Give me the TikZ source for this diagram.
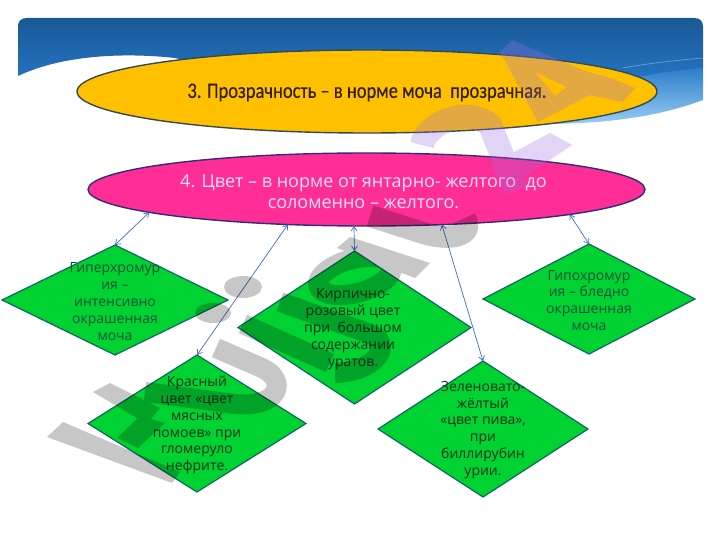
\documentclass[tikz,border=0pt]{standalone}
\usepackage{fontspec}
\setmainfont{Open Sans}
\newfontfamily\titlefont[FakeStretch=0.84,FakeBold=0.3]{Carlito}
\usetikzlibrary{shapes.geometric,arrows.meta}
\definecolor{ovalY}{RGB}{255,192,0}
\definecolor{ovalP}{RGB}{255,45,150}
\definecolor{dia}{RGB}{0,210,50}
\definecolor{diaedge}{RGB}{15,105,90}
\definecolor{conncol}{RGB}{62,112,190}
\definecolor{wmpurple}{RGB}{158,110,225}
\definecolor{tealtxt}{RGB}{6,80,60}
\definecolor{darktxt}{RGB}{4,50,28}
\tikzset{
  x=1pt,y=-1pt,
  oval/.style={ellipse,draw,line width=1.4pt,inner sep=0pt,outer sep=0pt},
  gem/.style={diamond,fill=dia,draw=diaedge,line width=1.2pt,inner sep=0pt,outer sep=0pt},
  gemtext/.style={align=center,font=\fontsize{14}{16.9}\selectfont,inner sep=0pt},
  conn/.style={draw=conncol,line width=0.7pt,{Straight Barb[length=4.5pt,width=6pt]}-{Straight Barb[length=4.5pt,width=6pt]}},
}
\begin{document}
\begin{tikzpicture}
\useasboundingbox (0,0) rectangle (720,540);
\fill[white] (0,0) rectangle (720,540);
% header band
\shade[top color={rgb,255:red,26;green,88;blue,150},bottom color={rgb,255:red,40;green,130;blue,215}]
  (18,27) .. controls (18,21) and (21,18) .. (27,18) -- (694,18) .. controls (700,18) and (703,21) .. (703,27)
  -- (703,68) .. controls (680,72) and (650,74) .. (600,90) -- (400,110) -- (175,58)
  .. controls (120,52) and (60,56) .. (18,76) -- cycle;
\shade[top color={rgb,255:red,45;green,125;blue,200},bottom color={rgb,255:red,150;green,205;blue,245}]
  (703,68) .. controls (680,70) and (650,73) .. (610,84) -- (500,110) -- (540,124)
  .. controls (610,124) and (660,116) .. (703,100) -- cycle;
\draw[white,opacity=.3,line width=.8pt] (623,68) .. controls (650,63) and (680,60) .. (703,58);
% ovals
\node[oval,fill=ovalY,draw={rgb,255:red,50;green,75;blue,85},minimum width=580pt,minimum height=83pt] (yellow) at (367,91.5) {};
\node[font=\titlefont\fontsize{22}{24}\selectfont,text={rgb,255:red,50;green,30;blue,0},inner sep=0pt] (yellowtext) at (367,92.5)
  {3. Прозрачность – в норме моча\ \ прозрачная.};
\node[oval,fill=ovalP,draw={rgb,255:red,50;green,45;blue,120},minimum width=557pt,minimum height=73pt] (pink) at (366.5,189.5) {};
\node[align=center,text={rgb,255:red,255;green,225;blue,240},font=\fontsize{18}{21}\selectfont,inner sep=0pt] (pinktext) at (363.5,192)
  {4. Цвет – в норме от янтарно- желтого\ \ до\\соломенно – желтого.};
% diamonds
\node[gem,minimum width=226pt,minimum height=110pt] (d1) at (115,300) {};
\node[gem,minimum width=218pt,minimum height=137pt] (d2) at (197,423.5) {};
\node[gem,minimum width=233pt,minimum height=153pt] (d3) at (354.5,327.5) {};
\node[gem,minimum width=210pt,minimum height=136pt] (d4) at (483,429) {};
\node[gem,minimum width=212pt,minimum height=110pt] (d5) at (589,299) {};
\node[gemtext,text=tealtxt] (t1) at (115,301.5) {Гиперхромур\\ия –\\интенсивно\\окрашенная\\моча};
\node[gemtext,text=darktxt] (t2) at (197,425) {Красный\\цвет «цвет\\мясных\\помоев» при\\гломеруло\\нефрите.};
\node[gemtext,text=darktxt] (t3) at (353,329) {Кирпично-\\розовый цвет\\при\ \ большом\\содержании\\уратов.};
\node[gemtext,text=darktxt] (t4) at (483,430) {Зеленовато-\\жёлтый\\«цвет пива»,\\при\\биллирубин\\урии.};
\node[gemtext,text=tealtxt] (t5) at (589,300.5) {Гипохромур\\ия – бледно\\окрашенная\\моча};
% connectors
\draw[conn] (pink.186.2) -- (d1.north);
\draw[conn] (pink.204.1) -- (d2.north);
\draw[conn] (pink.251.8) -- (d3.north);
\draw[conn] (pink.335.4) -- (d4.north);
\draw[conn] (pink.353.1) -- (d5.north);
% watermark, grey part
\begin{scope}[transparency group,opacity=.22]
  \fill (47,437) -- (63,422) -- (180,472) -- (172,483) -- cycle;
  \fill (93,392) -- (110,383) -- (160,408) -- (147,424) -- cycle;
  \fill (117,438) -- (140,416) -- (165,423) -- (138,448) -- cycle;
  \draw[line width=20pt] (216,348) -- (262,368) .. controls (288,380) and (280,408) .. (235,404) -- (145,392);
  \fill (243,287) ellipse [x radius=19,y radius=11];
  \fill (213,313) ellipse [x radius=18,y radius=10];
  \draw[line width=20pt] (243,324) -- (330,363);
  \draw[line width=20pt] (280,302) -- (368,333) .. controls (395,343) and (377,372) .. (335,373);
  \draw[line width=20pt,rotate around={15:(355,276)}] (355,276) ellipse [x radius=38,y radius=17];
  \fill (337,248) -- (350,237) -- (430,263) -- (415,278) -- cycle;
  \draw[line width=22pt] (370,216) -- (420,232) .. controls (450,242) and (475,236) .. (465,218);
\end{scope}
% watermark, purple part
\begin{scope}[transparency group,opacity=.29,wmpurple]
  \fill[wmpurple,even odd rule] (512,40) -- (500,52) -- (538,122) -- (590,95) -- (623,102) -- (635,88) -- (610,78) -- (585,71) -- cycle
     (535,72) -- (567,87) -- (555,96) -- cycle;
  \draw[wmpurple,line width=24pt] (422,145) .. controls (425,125) and (465,105) .. (490,125) -- (516,190);
  \fill[wmpurple] (505,190) -- (490,165) -- (550,133) -- (572,145) -- cycle;
\end{scope}
\end{tikzpicture}
\end{document}
